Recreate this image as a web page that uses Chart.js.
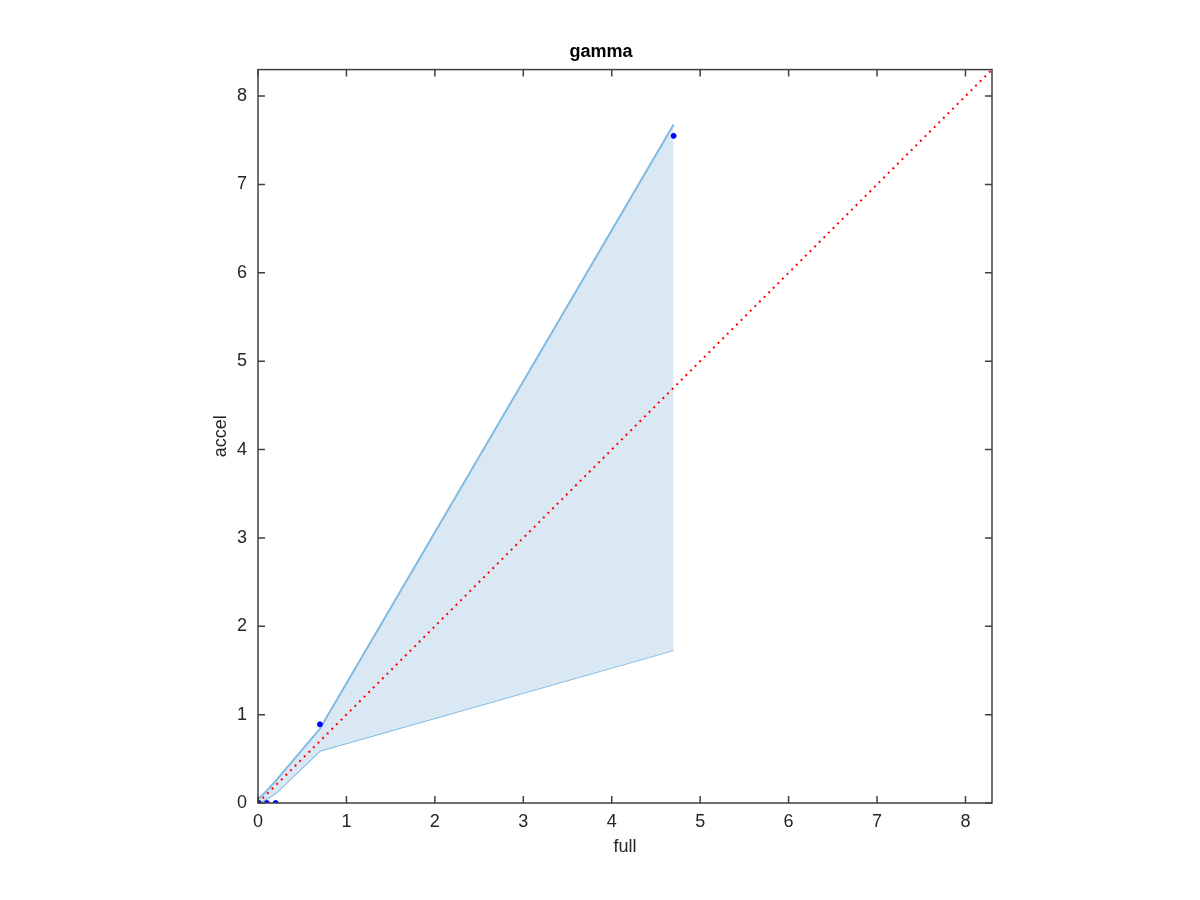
<!DOCTYPE html>
<html>
<head>
<meta charset="utf-8">
<script src="https://cdn.jsdelivr.net/npm/chart.js@4.4.0/dist/chart.umd.min.js"></script>
<style>
  html, body { margin: 0; padding: 0; background: #fff; }
  #wrap { width: 1200px; height: 900px; }
</style>
</head>
<body>
<div id="wrap"><canvas id="chart" width="1200" height="900"></canvas></div>
<script>
// ---- data ----
const bandX     = [0, 0.1, 0.2, 0.7, 4.7];
const bandUpper = [0.04, 0.14, 0.25, 0.84, 7.68];
const bandLower = [0, 0.05, 0.11, 0.59, 1.73];

const pointX = [0, 0.01, 0.1, 0.2, 0.7, 4.7];
const pointY = [0, 0, 0, 0, 0.89, 7.55];

const diagX = [0, 8.3];
const diagY = [0, 8.3];

const axisMin = 0;
const axisMax = 8.3;
const tickValues = [0, 1, 2, 3, 4, 5, 6, 7, 8];

const COLORS = {
  bandLine: '#7FBAE3',
  bandFill: 'rgba(218,232,244,1)',
  diag: '#FF0000',
  points: '#0000FF',
  axis: '#404040',
  text: '#262626'
};

const FONT = 'Liberation Sans, Arial, sans-serif';

const toXY = (xs, ys) => xs.map((x, i) => ({ x: x, y: ys[i] }));

// box frame + inward ticks on all four sides
const boxPlugin = {
  id: 'box',
  afterDraw(chart) {
    const { ctx, chartArea: a, scales } = chart;
    const len = 7;
    ctx.save();
    ctx.strokeStyle = COLORS.axis;
    ctx.lineWidth = 1.5;
    ctx.strokeRect(a.left, a.top, a.right - a.left, a.bottom - a.top);
    ctx.beginPath();
    tickValues.forEach(v => {
      const px = scales.x.getPixelForValue(v);
      ctx.moveTo(px, a.bottom); ctx.lineTo(px, a.bottom - len);
      ctx.moveTo(px, a.top); ctx.lineTo(px, a.top + len);
      const py = scales.y.getPixelForValue(v);
      ctx.moveTo(a.left, py); ctx.lineTo(a.left + len, py);
      ctx.moveTo(a.right, py); ctx.lineTo(a.right - len, py);
    });
    ctx.stroke();
    ctx.restore();
  }
};

function axisOpts(title, size, pad) {
  return {
    type: 'linear',
    min: axisMin,
    max: axisMax,
    afterBuildTicks: scale => { scale.ticks = tickValues.map(v => ({ value: v })); },
    grid: { display: false },
    border: { display: false },
    ticks: {
      color: COLORS.text,
      font: { family: FONT, size: 18 },
      padding: pad,
      callback: v => String(v)
    },
    title: {
      display: true,
      text: title,
      color: COLORS.text,
      font: { family: FONT, size: 18 },
      padding: 0
    },
    afterFit: scale => {
      if (scale.isHorizontal()) scale.height = size; else scale.width = size;
    }
  };
}

new Chart(document.getElementById('chart'), {
  type: 'scatter',
  data: {
    datasets: [
      {
        label: 'points',
        data: toXY(pointX, pointY),
        backgroundColor: COLORS.points,
        borderColor: COLORS.points,
        pointRadius: 2.5,
        showLine: false,
        order: 0
      },
      {
        label: 'y = x',
        data: toXY(diagX, diagY),
        borderColor: COLORS.diag,
        borderWidth: 2,
        borderDash: [2, 4.5],
        pointRadius: 0,
        showLine: true,
        order: 1
      },
      {
        label: 'upper',
        data: toXY(bandX, bandUpper),
        borderColor: COLORS.bandLine,
        backgroundColor: COLORS.bandFill,
        borderWidth: 2,
        pointRadius: 0,
        showLine: true,
        fill: '+1',
        order: 2
      },
      {
        label: 'lower',
        data: toXY(bandX, bandLower),
        borderColor: COLORS.bandLine,
        borderWidth: 2,
        pointRadius: 0,
        showLine: true,
        fill: false,
        order: 3
      }
    ]
  },
  options: {
    responsive: false,
    animation: false,
    layout: { padding: { left: 210, right: 208, top: 0, bottom: 42 } },
    plugins: {
      legend: { display: false },
      tooltip: { enabled: false },
      title: {
        display: true,
        text: 'gamma',
        color: '#000',
        font: { family: FONT, size: 18, weight: 'bold' },
        padding: { top: 41, bottom: 7 }
      }
    },
    scales: {
      x: axisOpts('full', 55, 0),
      y: axisOpts('accel', 48, 3)
    }
  },
  plugins: [boxPlugin]
});
</script>
</body>
</html>
